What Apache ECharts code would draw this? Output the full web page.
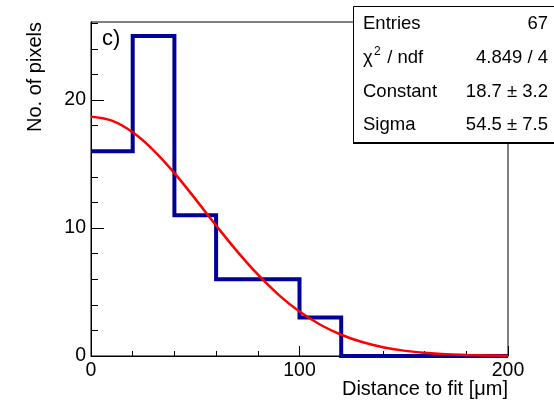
<!DOCTYPE html>
<html>
<head>
<meta charset="utf-8">
<script src="https://cdn.jsdelivr.net/npm/echarts@6/dist/echarts.min.js"></script>
<style>html,body{margin:0;padding:0;background:#fff}#c{width:554px;height:402px}</style>
</head>
<body>
<div id="c"></div>
<script>
// Histogram: bin left edges (µm) and counts
var binEdges = [0, 20, 40, 60, 80, 100, 120, 140, 160, 180, 200];
var binCounts = [16, 25, 11, 6, 6, 3, 0, 0, 0, 0];
// Fit curve
var fitX = [0, 10, 20, 30, 40, 50, 60, 70, 80, 90, 100, 110, 120, 130, 140, 150, 160, 170, 180, 190, 200];
var fitY = [18.70, 18.39, 17.48, 16.07, 14.29, 12.28, 10.20, 8.20, 6.37, 4.78, 3.47, 2.44, 1.66, 1.09, 0.69, 0.42, 0.25, 0.14, 0.08, 0.04, 0.02];
var xTickLabels = [0, 100, 200];
var yTickLabels = [0, 10, 20];
var yMinorTicks = [0, 2, 4, 6, 8, 10, 12, 14, 16, 18, 20, 22, 24, 26];
var statsLabels = ['Entries', 'χ² / ndf', 'Constant', 'Sigma'];
var statsValues = ['67', '4.849 / 4', '18.7 ± 3.2', '54.5 ± 7.5'];

var histData = [];
for (var i = 0; i < binCounts.length; i++) histData.push([binEdges[i], binCounts[i]]);
histData.push([binEdges[binEdges.length - 1], binCounts[binCounts.length - 1]]);
var fitData = fitX.map(function (x, i) { return [x, fitY[i]]; });

var FONT = 'Liberation Sans, Arial, sans-serif';
var chart = echarts.init(document.getElementById('c'), null, {renderer: 'canvas'});

var rowY = [23.5, 58, 92, 125];
var graphics = [];
// stats box
graphics.push({type: 'rect', z: 100, shape: {x: 353.5, y: 6.5, width: 220, height: 136}, style: {fill: '#fff', stroke: '#000', lineWidth: 1}});
graphics.push({type: 'rect', z: 100, shape: {x: 353, y: 142, width: 220, height: 2}, style: {fill: '#000'}});
for (var r = 0; r < 4; r++) {
  if (r === 1) {
    graphics.push({type: 'text', z: 101, x: 363, y: rowY[r], style: {text: 'χ', font: '18.5px ' + FONT, fill: '#000', textVerticalAlign: 'middle', textAlign: 'left'}});
    graphics.push({type: 'text', z: 101, x: 374, y: rowY[r] - 6, style: {text: '2', font: '12px ' + FONT, fill: '#000', textVerticalAlign: 'middle', textAlign: 'left'}});
    graphics.push({type: 'text', z: 101, x: 382, y: rowY[r], style: {text: ' / ndf', font: '18.5px ' + FONT, fill: '#000', textVerticalAlign: 'middle', textAlign: 'left'}});
  } else {
    graphics.push({type: 'text', z: 101, x: 363, y: rowY[r], style: {text: statsLabels[r], font: '18.5px ' + FONT, fill: '#000', textVerticalAlign: 'middle', textAlign: 'left'}});
  }
  graphics.push({type: 'text', z: 101, x: 548, y: rowY[r], style: {text: statsValues[r], font: '18.5px ' + FONT, fill: '#000', textVerticalAlign: 'middle', textAlign: 'right'}});
}
// panel label
graphics.push({type: 'text', z: 101, x: 102, y: 39, style: {text: 'c)', font: '22px ' + FONT, fill: '#000', textVerticalAlign: 'middle', textAlign: 'left'}});
// axis titles
graphics.push({type: 'text', z: 101, x: 508, y: 389, style: {text: 'Distance to fit [μm]', font: '20px ' + FONT, fill: '#000', textVerticalAlign: 'middle', textAlign: 'right'}});
graphics.push({type: 'text', z: 101, x: 35, y: 22, rotation: Math.PI / 2, style: {text: 'No. of pixels', font: '20px ' + FONT, fill: '#000', textVerticalAlign: 'middle', textAlign: 'right'}});

chart.setOption({
  animation: false,
  backgroundColor: '#fff',
  grid: {left: 91, right: 46, top: 22, bottom: 46, show: true, borderColor: '#000', borderWidth: 1, backgroundColor: 'transparent'},
  xAxis: {
    type: 'value', min: 0, max: 200, interval: 100,
    axisLine: {show: true, lineStyle: {color: '#000', width: 1}},
    axisTick: {show: true, inside: true, length: 10, lineStyle: {color: '#000'}},
    minorTick: {show: true, splitNumber: 5, length: 5, lineStyle: {color: '#000'}},
    splitLine: {show: false}, minorSplitLine: {show: false},
    axisLabel: {show: true, fontSize: 19.5, fontFamily: FONT, color: '#000', margin: 5,
      formatter: function (v) { return xTickLabels.indexOf(v) >= 0 ? String(v) : ''; }}
  },
  yAxis: [{
    type: 'value', min: 0, max: 26.1, interval: 10, position: 'left', offset: 0,
    axisLine: {show: true, lineStyle: {color: '#000', width: 1}},
    axisTick: {show: true, inside: true, length: 13, customValues: yTickLabels, lineStyle: {color: '#000'}},
    splitLine: {show: false},
    axisLabel: {show: true, fontSize: 19.5, fontFamily: FONT, color: '#000', margin: 5,
      customValues: yTickLabels,
      formatter: function (v) { return yTickLabels.indexOf(v) >= 0 ? String(v) : ''; }}
  }, {
    type: 'value', min: 0, max: 26.1, interval: 2, position: 'left', offset: 0,
    axisLine: {show: false},
    axisTick: {show: true, inside: true, length: 7, customValues: yMinorTicks, lineStyle: {color: '#000'}},
    splitLine: {show: false},
    axisLabel: {show: false}
  }],
  series: [{
    type: 'line', step: 'end', data: histData, symbol: 'none', yAxisIndex: 0,
    lineStyle: {color: '#00009a', width: 4, join: 'miter'}, z: 2
  }, {
    type: 'line', smooth: 0.4, data: fitData, symbol: 'none', yAxisIndex: 0,
    lineStyle: {color: '#ff0000', width: 2.5}, z: 3
  }],
  graphic: graphics
});
</script>
</body>
</html>
